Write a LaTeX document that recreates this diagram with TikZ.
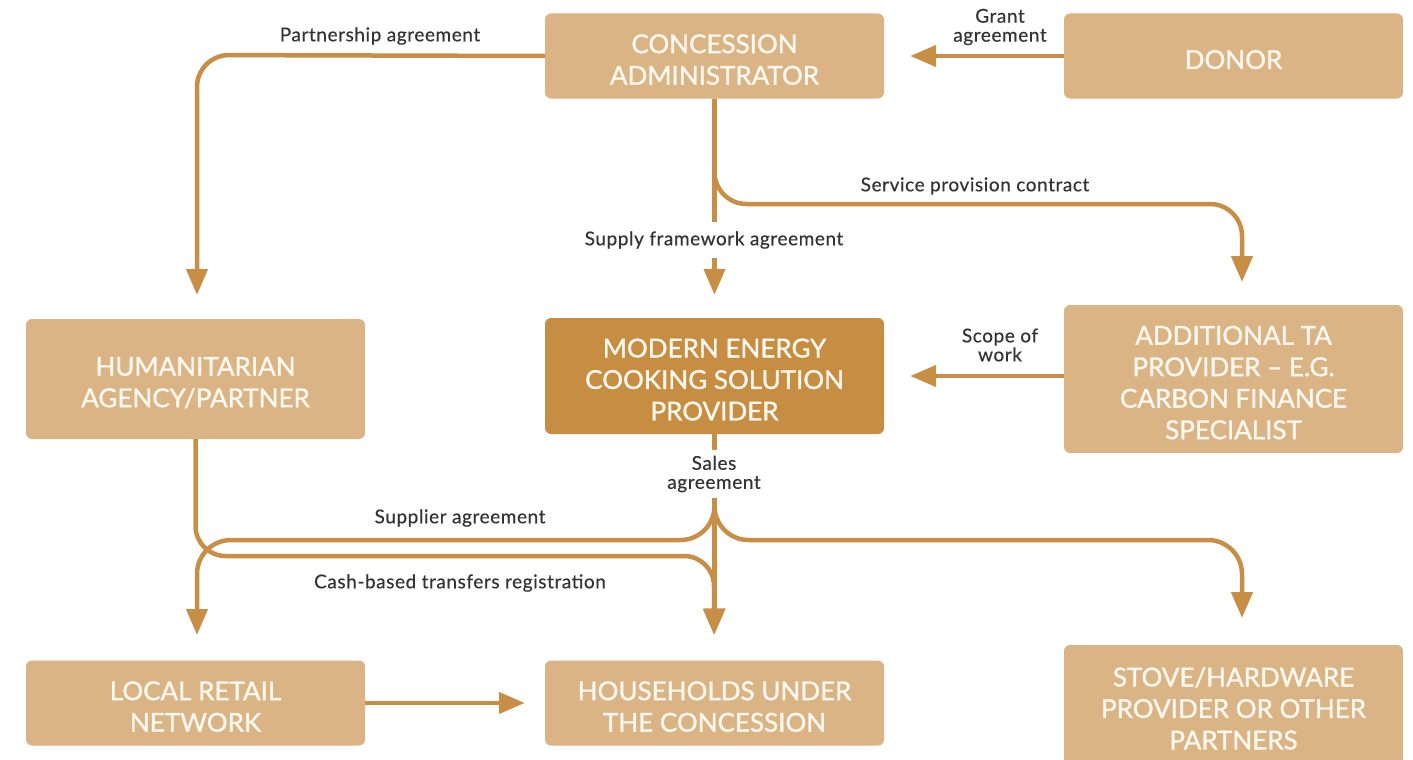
\documentclass[tikz,border=0pt]{standalone}
\usepackage{fontspec}
\setmainfont{Lato}
\newfontfamily\boxfont{Lato}[FakeBold=1.2]
\newfontfamily\labfont{Lato}[LetterSpace=3,FakeBold=0.4]
\usetikzlibrary{arrows.meta,calc}
\definecolor{boxlight}{HTML}{DBB486}
\definecolor{boxdark}{HTML}{C68D43}
\definecolor{lineor}{HTML}{C98E45}
\definecolor{boxtext}{HTML}{FFF8EE}
\definecolor{labtext}{HTML}{333333}
\newcommand\tp{\rule{0pt}{26pt}}
\begin{document}
\begin{tikzpicture}[x=1pt,y=-1pt,
  box/.style={rectangle, rounded corners=6pt, fill=boxlight, text=boxtext,
    minimum width=339pt, align=center, inner sep=0pt,
    font=\boxfont\fontsize{26}{31.5}\selectfont},
  darkbox/.style={box, fill=boxdark},
  conn/.style={draw=lineor, line width=4.5pt, -{Triangle[length=26pt,width=21pt]}},
  lab/.style={text=labtext, align=center, inner sep=1pt,
    font=\labfont\fontsize{19}{19}\selectfont},
  gaplab/.style={lab, fill=white, inner ysep=9pt}
]
\useasboundingbox (0,0) rectangle (1413,760);

% boxes
\node[box, minimum height=85pt] (conc) at (714.5,56) {\tp CONCESSION\\ADMINISTRATOR};
\node[box, minimum height=85pt] (donor) at (1233.5,56) {\tp DONOR};
\node[box, minimum height=120pt] (hum) at (195.5,379) {\tp HUMANITARIAN\\AGENCY/PARTNER};
\node[darkbox, minimum height=116pt] (mecs) at (714.5,376) {\tp MODERN ENERGY\\COOKING SOLUTION\\PROVIDER};
\node[box, minimum height=148pt] (ta) at (1233.5,379) {\tp ADDITIONAL TA\\PROVIDER – E.G.\\CARBON FINANCE\\SPECIALIST};
\node[box, minimum height=85pt] (local) at (195.5,703) {\tp LOCAL RETAIL\\NETWORK};
\node[box, minimum height=85pt] (hh) at (714.5,703) {\tp HOUSEHOLDS UNDER\\THE CONCESSION};
\node[box, minimum height=120pt] (stove) at (1233.5,705) {\tp STOVE/HARDWARE\\PROVIDER OR OTHER\\PARTNERS};

% helper coordinates
\coordinate (pbend) at (197,55);
\coordinate (ptip) at (197,295);
\coordinate (sbend) at (1242,204);
\coordinate (stip) at (1242,282);
\coordinate (lbend) at (197,540);
\coordinate (ltip) at (197,635);
\coordinate (rbend) at (1242,540);
\coordinate (rtip) at (1242,618);
\coordinate (hbend) at (714,556);
\coordinate (htip) at (714,635);

% connectors
\draw[conn, shorten >=26pt] (donor.west) -- (conc.east);
\draw[conn, shorten >=26pt] (ta.west |- mecs.east) -- (mecs.east);
\draw[conn, rounded corners=32pt] (conc.west) -- (pbend) -- (ptip);
\draw[conn, rounded corners=32pt] (conc.south) |- (sbend) -- (stip);
\draw[conn, shorten >=23pt] (conc.south) -- (mecs.north);
\node[gaplab] (supl) at (714,240) {Supply framework agreement};

\draw[conn, rounded corners=34pt] (mecs.south) |- (lbend) -- (ltip);
\draw[conn, rounded corners=34pt] (mecs.south) |- (rbend) -- (rtip);
\draw[conn, rounded corners=30pt] (hum.south) |- (hbend) -- (htip);
\draw[conn, shorten >=26pt] (mecs.south) -- (hh.north);
\node[gaplab, inner ysep=6pt] (salel) at (714,474) {Sales\\agreement};
\draw[conn, shorten >=20pt] (local.east) -- (hh.west);

% labels
\node[lab] (partl) at (380,36) {Partnership agreement};
\node[lab] (grantl) at (1000,27) {Grant\\agreement};
\node[lab] (servl) at (975,186) {Service provision contract};
\node[lab] (scopel) at (1000,345) {Scope of\\work};
\node[lab] (suppl) at (460,518) {Supplier agreement};
\node[lab] (cashl) at (460,583) {Cash-based transfers registration};
\end{tikzpicture}
\end{document}
